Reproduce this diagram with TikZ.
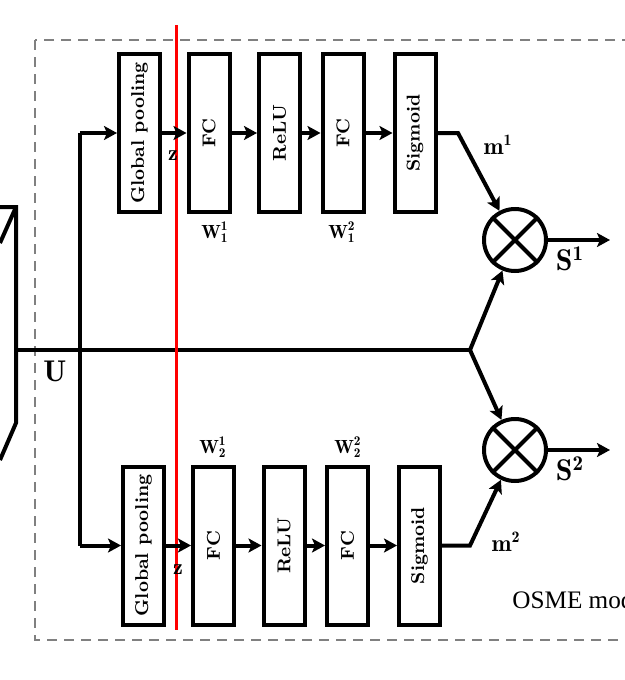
\documentclass[tikz,border=0pt]{standalone}
\usepackage{tikz}
\usetikzlibrary{arrows.meta,positioning,calc}
\usepackage{graphicx}
\usepackage{amsmath}
\usepackage{fontspec}
\newfontfamily\osmefont{Liberation Serif}

\begin{document}
\begin{tikzpicture}[x=0.5pt, y=-0.5pt,
  block/.style={rectangle, draw, line width=2pt, minimum width=20.5pt, minimum height=79pt, inner sep=0pt, font=\fontsize{9.3}{11}\selectfont\bfseries},
  mult/.style={circle, draw, line width=2pt, minimum size=31pt, inner sep=0pt},
  arr/.style={-{Stealth[length=6.5pt, width=7pt, inset=1.5pt]}, line width=2pt},
  wlbl/.style={inner sep=0pt, font=\fontsize{9.5}{11}\selectfont},
  blbl/.style={inner sep=0pt, font=\fontsize{15}{17}\selectfont}
]
  \useasboundingbox (0,0) rectangle (625,680);

  % module frame
  \draw[gray, line width=1.2pt, dash pattern=on 5pt off 3.5pt] (35,40) rectangle (660,640);

  % input volume (cut off)
  \draw[line width=2pt] (0,207) -- (16,207) -- (16,423) -- (0,460);
  \draw[line width=2pt] (16,207) -- (0,243);

  % upper branch
  \node[block] (gp1) at (139.5,133) {\rotatebox{90}{Global pooling}};
  \node[block] (fc11) at (209,133) {\rotatebox{90}{FC}};
  \node[block] (relu1) at (279.5,133) {\rotatebox{90}{ReLU}};
  \node[block] (fc12) at (343,133) {\rotatebox{90}{FC}};
  \node[block] (sig1) at (415,133) {\rotatebox{90}{Sigmoid}};

  % lower branch
  \node[block] (gp2) at (143.5,545.5) {\rotatebox{90}{Global pooling}};
  \node[block] (fc21) at (213.5,545.5) {\rotatebox{90}{FC}};
  \node[block] (relu2) at (284,545.5) {\rotatebox{90}{ReLU}};
  \node[block] (fc22) at (347.5,545.5) {\rotatebox{90}{FC}};
  \node[block] (sig2) at (419.5,545.5) {\rotatebox{90}{Sigmoid}};

  % multipliers
  \node[mult] (mul1) at (515,240) {};
  \node[mult] (mul2) at (515,450) {};
  \draw[line width=2pt] (mul1.45) -- (mul1.225) (mul1.135) -- (mul1.315);
  \draw[line width=2pt] (mul2.45) -- (mul2.225) (mul2.135) -- (mul2.315);

  \coordinate (uin) at (16,350);
  \coordinate (split) at (470,350);
  \coordinate (fork) at (80,350);
  \coordinate (bend1) at (458,133);
  \coordinate (bend2) at (470,545.5);
  \coordinate (out1) at (610,240);
  \coordinate (out2) at (610,450);

  % trunk
  \draw[line width=2pt] (uin) -- (split);
  \draw[line width=2pt] (fork |- gp1) -- (fork |- gp2);

  % cut line
  \draw[red, line width=1.5pt] (176,25) -- (176,630);

  \draw[arr] (fork |- gp1) -- (gp1);
  \draw[arr] (gp1) -- (fc11);
  \draw[arr] (fc11) -- (relu1);
  \draw[arr] (relu1) -- (fc12);
  \draw[arr] (fc12) -- (sig1);
  \draw[arr] (sig1.east) -- (bend1) -- (mul1);

  \draw[arr] (fork |- gp2) -- (gp2);
  \draw[arr] (gp2) -- (fc21);
  \draw[arr] (fc21) -- (relu2);
  \draw[arr] (relu2) -- (fc22);
  \draw[arr] (fc22) -- (sig2);
  \draw[arr] (sig2.east) -- (bend2) -- (mul2);

  \draw[arr] (split) -- (mul1);
  \draw[arr] (split) -- (mul2);
  \draw[arr] (mul1) -- (out1);
  \draw[arr] (mul2) -- (out2);

  % labels
  \node[wlbl] (w11) at (215,232) {$\mathbf{W}_{\mathbf{1}}^{\mathbf{1}}$};
  \node[wlbl] (w12) at (342,232) {$\mathbf{W}_{\mathbf{1}}^{\mathbf{2}}$};
  \node[wlbl] (w21) at (213,447) {$\mathbf{W}_{\mathbf{2}}^{\mathbf{1}}$};
  \node[wlbl] (w22) at (348,447) {$\mathbf{W}_{\mathbf{2}}^{\mathbf{2}}$};
  \node[inner sep=0pt, font=\fontsize{11}{12}\selectfont] (z1) at (173,156) {$\mathbf{z}$};
  \node[inner sep=0pt, font=\fontsize{11}{12}\selectfont] (z2) at (178,570) {$\mathbf{z}$};
  \node[inner sep=0pt, font=\fontsize{12}{14}\selectfont] (m1) at (498,145) {$\mathbf{m^1}$};
  \node[inner sep=0pt, font=\fontsize{12}{14}\selectfont] (m2) at (506,542) {$\mathbf{m^2}$};
  \node[blbl] (s1) at (570,259) {$\mathbf{S^1}$};
  \node[blbl] (s2) at (570,469) {$\mathbf{S^2}$};
  \node[blbl] (u) at (55,371) {$\mathbf{U}$};
  \node[anchor=west, inner sep=0pt, font=\osmefont\fontsize{12.6}{14}\selectfont] (osme) at (512,600) {OSME module};
\end{tikzpicture}
\end{document}
